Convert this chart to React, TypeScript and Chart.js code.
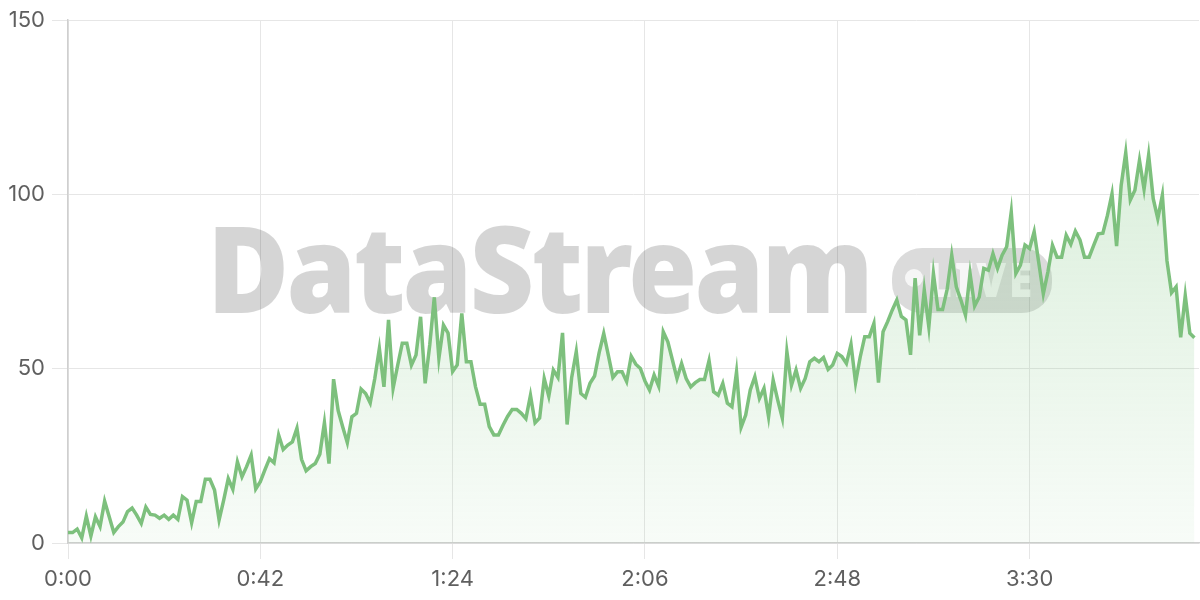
import React, { useEffect, useRef } from "react";
import { Chart, registerables } from "chart.js";

Chart.register(...registerables);

// one value per second, 0:00 .. 4:06
const seriesValues: number[] = [
  3, 3, 4, 1.5, 7.7, 2, 7.5, 4.7, 12, 7.5,
  3, 4.7, 6, 9, 10, 8, 5.6, 10.3, 8.2, 8,
  7.1, 8, 6.8, 8, 6.8, 13.3, 12.3, 5.8, 11.9, 11.9,
  18.3, 18.3, 15.2, 6.6, 12.3, 18.5, 15.4, 23.3, 19, 21.9,
  25.2, 15.5, 17.6, 21, 24.2, 23, 31, 26.8, 28.1, 29,
  32.9, 24, 20.7, 21.9, 22.8, 25.5, 34.5, 22.8, 47, 38,
  33.3, 28.8, 36.2, 37.2, 44.2, 42.9, 40.2, 47.2, 55.8, 44.8,
  64, 44.4, 51, 57.3, 57.3, 51, 53.9, 64.9, 45.8, 56.8,
  70.5, 53, 62.5, 60.2, 49.2, 51.1, 65.9, 52, 52, 44.8,
  39.8, 39.8, 33.4, 31, 31, 33.8, 36.3, 38.3, 38.3, 37.2,
  35.7, 42.4, 34.5, 35.9, 47.2, 42.1, 49.6, 47.5, 60.3, 34,
  47.5, 54.9, 42.9, 41.8, 45.8, 47.9, 54.6, 60.1, 53.9, 47.5,
  49.1, 49.1, 46.3, 53.6, 51.3, 50.1, 46.5, 43.9, 48.2, 45,
  60.6, 57.7, 52.5, 47.2, 51.5, 47.2, 44.8, 46, 46.9, 46.9,
  52.3, 43.4, 42.4, 45.8, 40.1, 39.1, 49.1, 33.2, 36.7, 43.9,
  47.7, 41.5, 44.4, 36.2, 46.7, 41, 35.8, 54.9, 45.3, 49.6,
  44.4, 47.2, 52, 53, 52, 53.2, 49.8, 51.1, 54.4, 53.5,
  51.5, 57, 46, 53.3, 59.2, 59.2, 63, 46, 60.6, 63.5,
  66.8, 69.7, 65, 64, 54, 76, 59.6, 72.6, 62, 77.3,
  67, 67, 72.8, 82.6, 73.5, 69.7, 65.4, 77.3, 68, 70.6,
  78.8, 78.3, 83, 78.8, 82.6, 85, 95, 77.3, 79.7, 85.5,
  84.5, 89.3, 80.5, 71.5, 77.8, 85.4, 82, 82, 88.3, 85.7,
  89.5, 87, 82, 82, 85.4, 88.7, 88.9, 94, 100.2, 85.2,
  102.6, 112, 98.4, 101.2, 109.8, 101.5, 111.3, 98.8, 93.1, 99.8,
  81, 71.8, 73.5, 59, 71, 60.2, 58.9,
];

const xTickLabels: string[] = ["0:00", "0:42", "1:24", "2:06", "2:48", "3:30"];
const xTickStep = 42;
const xMax = 247;
const yTickValues: number[] = [0, 50, 100, 150];

const watermarkTitle = "DataStream";
const watermarkBadge = "LIVE";

const LINE = "#7dc07d";
const TICK_FONT = "Inter";

const watermarkPlugin = {
  id: "watermark",
  beforeDatasetsDraw(chart: any) {
    const ctx: CanvasRenderingContext2D = chart.ctx;
    ctx.save();
    ctx.fillStyle = "rgba(0,0,0,0.165)";
    ctx.font = '900 120px "Noto Sans"';
    ctx.textBaseline = "alphabetic";
    ctx.textAlign = "left";
    (ctx as any).letterSpacing = "-3px";
    ctx.fillText(watermarkTitle, 207, 313, 664);
    // badge
    ctx.fillStyle = "rgba(0,0,0,0.14)";
    ctx.beginPath();
    (ctx as any).roundRect(892, 248, 160, 65, 30);
    ctx.fill();
    ctx.fillStyle = "rgba(255,255,255,0.75)";
    ctx.beginPath();
    ctx.arc(914, 278, 9, 0, Math.PI * 2);
    ctx.fill();
    ctx.font = '900 47px "Noto Sans"';
    (ctx as any).letterSpacing = "3px";
    ctx.fillText(watermarkBadge, 927, 297, 108);
    ctx.restore();
  },
};

export default function App() {
  const canvasRef = useRef<HTMLCanvasElement | null>(null);

  useEffect(() => {
    document.body.style.margin = "0";
    const canvas = canvasRef.current!;
    const chart = new Chart(canvas, {
      type: "line",
      data: {
        datasets: [
          {
            data: seriesValues.map((v, i) => ({ x: i, y: v })),
            borderColor: LINE,
            borderWidth: 3.5,
            pointRadius: 0,
            tension: 0,
            fill: "origin",
            backgroundColor: (c: any) => {
              const area = c.chart.chartArea;
              if (!area) return "rgba(129,199,132,0.15)";
              const g = c.chart.ctx.createLinearGradient(0, area.top, 0, area.bottom);
              g.addColorStop(0, "rgba(129,199,132,0.36)");
              g.addColorStop(1, "rgba(129,199,132,0.06)");
              return g;
            },
          },
        ],
      },
      options: {
        responsive: false,
        animation: false,
        layout: { padding: { top: 20, right: 1, left: 0, bottom: 0 } },
        plugins: { legend: { display: false }, tooltip: { enabled: false } },
        scales: {
          x: {
            type: "linear",
            min: 0,
            max: xMax,
            afterBuildTicks: (axis: any) => {
              axis.ticks = xTickLabels.map((_, i) => ({ value: i * xTickStep }));
            },
            afterFit: (axis: any) => {
              axis.height = 57;
            },
            ticks: {
              autoSkip: false,
              maxRotation: 0,
              color: "#5f5f5f",
              font: { size: 22, family: TICK_FONT },
              padding: 7,
              callback: (v: any) => xTickLabels[Math.round(Number(v) / xTickStep)] ?? "",
            },
            grid: {
              color: "#e6e6e6",
              tickLength: 16,
            },
            border: { color: "#cfcfcf", width: 1.5 },
          },
          y: {
            min: 0,
            max: 150,
            afterBuildTicks: (axis: any) => {
              axis.ticks = yTickValues.map((v) => ({ value: v }));
            },
            afterFit: (axis: any) => {
              axis.width = 68;
            },
            ticks: {
              color: "#5f5f5f",
              font: { size: 22, family: TICK_FONT },
              padding: 7,
            },
            grid: {
              color: "#e6e6e6",
              tickLength: 16,
            },
            border: { color: "#cfcfcf", width: 1.5 },
          },
        },
      },
      plugins: [watermarkPlugin],
    });
    return () => chart.destroy();
  }, []);

  return (
    <div style={{ position: "fixed", left: 0, top: 0, width: 1200, height: 600 }}>
      <canvas ref={canvasRef} width={1200} height={600} />
    </div>
  );
}
